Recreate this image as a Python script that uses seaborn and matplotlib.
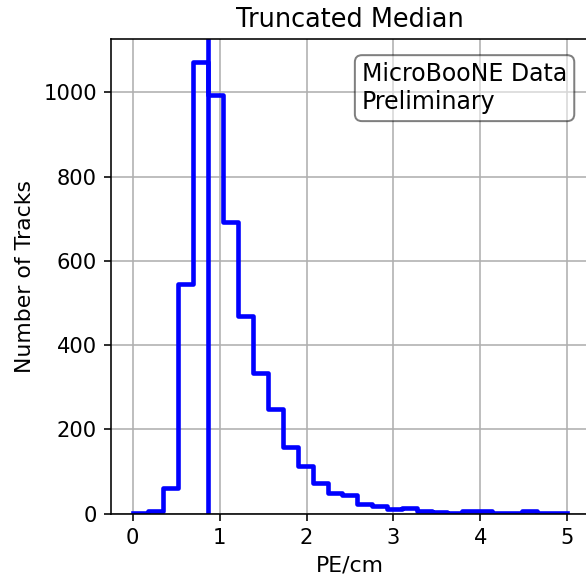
import numpy as np
import pandas as pd
import matplotlib
matplotlib.use("Agg")
import matplotlib.pyplot as plt
import seaborn as sns

# Data
bin_edges = [round(5 * i / 29, 6) for i in range(30)]  # 29 bins from 0 to 5
counts = [1, 5, 60, 545, 1073, 993, 692, 469, 333, 248, 157, 113, 73, 48, 44,
          23, 19, 10, 13, 7, 4, 2, 5, 5, 2, 2, 5, 1, 1]
median_value = 0.87
title = "Truncated Median"
xlabel = "PE/cm"
ylabel = "Number of Tracks"
box_text = "MicroBooNE Data\nPreliminary"
xticks = [0, 1, 2, 3, 4, 5]
yticks = [0, 200, 400, 600, 800, 1000]

edges_arr = np.array(bin_edges)
centers = 0.5 * (edges_arr[:-1] + edges_arr[1:])
df = pd.DataFrame({"pe": centers, "n": counts})

plt.rcParams["font.family"] = ["DejaVu Sans"]
plt.rcParams["font.size"] = 10.5

dpi = 144
fig = plt.figure(figsize=(586 / dpi, 581 / dpi), dpi=dpi)
ax = fig.add_axes([0.1894, 0.116, 0.8157, 0.8169])

sns.histplot(data=df, x="pe", weights="n", bins=list(bin_edges), element="step",
             fill=False, color="blue", linewidth=2.3, ax=ax)
ax.axvline(median_value, color="blue", linewidth=2.3)

ax.set_xlim(-0.25, 5.25)
ax.set_ylim(0, 1.05 * max(counts))
ax.set_xticks(xticks)
ax.set_yticks(yticks)
ax.tick_params(labelsize=10.5)
ax.grid(True, color="#b0b0b0", linewidth=0.8)
for line in ax.get_xgridlines() + ax.get_ygridlines():
    line.set_zorder(0.5)

ax.set_title(title, fontsize=12.8)
ax.set_xlabel(xlabel, fontsize=11)
ax.set_ylabel(ylabel, fontsize=11)

ax.text(0.525, 0.951, box_text, transform=ax.transAxes, fontsize=11.8,
        va="top", ha="left",
        bbox=dict(boxstyle="round", facecolor="white", alpha=0.5))

fig.savefig("out.png", dpi=dpi)
